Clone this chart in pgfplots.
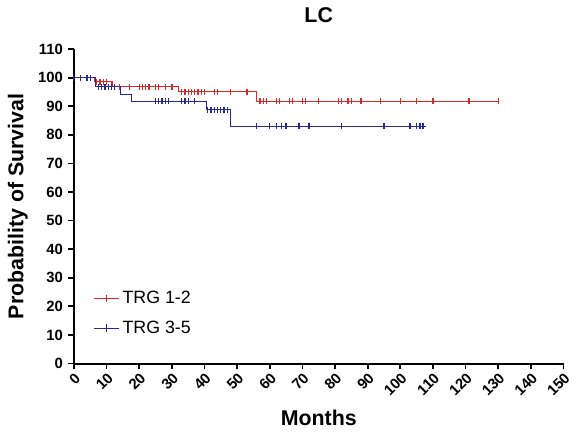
\documentclass[border=2pt]{standalone}
\usepackage{pgfplots}
\pgfplotsset{compat=1.18}
\usepackage{fontspec}
\setmainfont{Liberation Sans}
\definecolor{cr}{RGB}{220,40,40}
\definecolor{cb}{RGB}{40,40,150}
\begin{document}
\begin{tikzpicture}
\begin{axis}[
  width=330pt, height=212pt, scale only axis,
  xmin=0, xmax=150, ymin=0, ymax=110,
  xtick={0,10,...,150}, ytick={0,10,...,110},
  axis x line*=bottom, axis y line*=left,
  axis line style={line width=1.3pt},
  major tick style={line width=1.2pt, black},
  tick align=outside, major tick length=4pt,
  xticklabel style={rotate=45, anchor=north east, font=\bfseries, inner sep=1pt},
  yticklabel style={font=\bfseries},
  /pgf/number format/assume math mode=true,
  xlabel={\textbf{Months}}, ylabel={\textbf{Probability of Survival}},
  xlabel style={font=\Large, yshift=-4pt},
  ylabel style={font=\Large},
  title={\textbf{LC}}, title style={font=\Large, yshift=8pt},
  legend style={draw=none, fill=none, at={(0.03,0.07)}, anchor=south west, font=\large, row sep=6pt},
  legend cell align=left,
  clip=false,
]
\addplot[cr, line width=0.6pt, const plot, mark=|, mark size=2.5pt, mark repeat=1000] coordinates {(0,100)(6.3,98.5)(11.9,96.8)(32,95)(55.8,91.7)(130,91.7)};
\addlegendentry{TRG 1-2}
\addplot[cb, line width=0.6pt, const plot, mark=|, mark size=2.5pt, mark repeat=1000] coordinates {(0,100)(6.6,96.8)(14.4,94)(17.5,91.7)(40.5,88.7)(47.8,83)(108,83)};
\addlegendentry{TRG 3-5}
\addplot[cr, only marks, mark=|, mark size=2pt, line width=0.9pt, forget plot] coordinates {
(7,98.5)(8,98.5)(9,98.5)(10,98.5)(11.5,97.5)
(12.5,96.8)(14,96.8)(17,96.8)(20,96.8)(21,96.8)(22,96.8)(23,96.8)(25,96.8)(26,96.8)(28,96.8)(30,96.8)
(33,95)(34,95)(35,95)(36,95)(37,95)(38,95)(39,95)(40,95)(43,95)(44,95)(48,95)(53,95)
(57,91.7)(58,91.7)(59,91.7)(62,91.7)(63,91.7)(66,91.7)(67,91.7)(70,91.7)(71,91.7)(75,91.7)(81,91.7)(82,91.7)(84,91.7)(85,91.7)(88,91.7)(94,91.7)(100,91.7)(105,91.7)(110,91.7)(121,91.7)(130,91.7)};
\addplot[cb, only marks, mark=|, mark size=2pt, line width=0.9pt, forget plot] coordinates {
(2,100)(4,100)(5,100)
(7.5,96.8)(8.5,96.8)(9.5,96.8)(10.5,96.8)(11.5,96.8)(12.5,96.8)
(25,91.7)(26,91.7)(27,91.7)(28,91.7)(29,91.7)(33,91.7)(34,91.7)(35,91.7)(37,91.7)
(41,88.7)(42,88.7)(43,88.7)(44,88.7)(45,88.7)(46,88.7)(47,88.7)
(56,83)(60,83)(62,83)(63.5,83)(65,83)(69,83)(72,83)(82,83)(95,83)(103,83)(105,83)(106,83)(107,83)};
\end{axis}
\end{tikzpicture}
\end{document}
